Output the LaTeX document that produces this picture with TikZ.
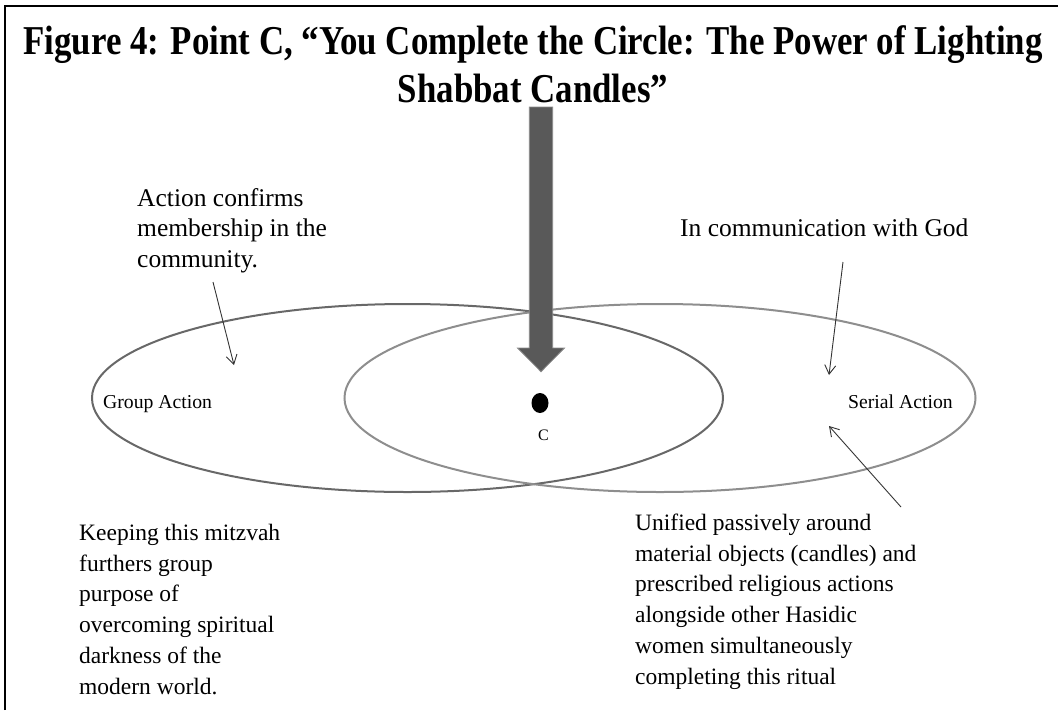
\documentclass[tikz,border=0pt]{standalone}
\usepackage{fontspec}
\setmainfont{Liberation Serif}
\newfontfamily\titlefont[FakeStretch=0.85]{Liberation Serif}
\usetikzlibrary{arrows.meta,shapes.geometric}
\definecolor{leftring}{HTML}{686868}
\definecolor{rightring}{HTML}{8E8E8E}
\definecolor{bigfill}{HTML}{595959}
\definecolor{bigedge}{HTML}{8A8A8A}
\definecolor{thinline}{HTML}{333333}
\begin{document}
\begin{tikzpicture}[x=1pt,y=-1pt,
  txt/.style={inner sep=0pt, align=left, anchor=base west, font=\fontsize{25.5}{30.8}\selectfont},
  lowtxt/.style={inner sep=0pt, align=left, anchor=base west, font=\fontsize{23.5}{30.7}\selectfont},
  lab/.style={inner sep=0pt, anchor=base west, font=\fontsize{19.7}{23}\selectfont},
  thinarrow/.style={draw=thinline, line width=0.9pt, -{Straight Barb[length=9pt,width=11pt]}},
  ring/.style={ellipse, line width=2pt, minimum width=631pt, minimum height=188pt, inner sep=0pt},
  bigarrow/.style={fill=bigfill, draw=bigedge, line width=0.8pt},
]
\useasboundingbox (0,0) rectangle (1058,710);
\draw[line width=1.5pt] (5,710) -- (5,6) -- (1058,6);

\node[inner sep=0pt, anchor=base, align=center, font=\titlefont\bfseries\fontsize{41}{48}\selectfont] (title) at (533,102)
  {Figure 4: Point C, “You Complete the Circle: The Power of Lighting\\Shabbat Candles”};

\node[ring, draw=leftring] (grp) at (407.5,398) {};
\node[ring, draw=rightring] (ser) at (660,398) {};

\coordinate (at) at (541,107);
\coordinate (ah) at (541,371.7);
\filldraw[bigarrow] ([xshift=-11.7pt]at) -- ([xshift=11.7pt]at) -- ([xshift=11.7pt,yshift=23.7pt]ah)
  -- ([xshift=23.5pt,yshift=23.7pt]ah) -- (ah) -- ([xshift=-23.5pt,yshift=23.7pt]ah)
  -- ([xshift=-11.7pt,yshift=23.7pt]ah) -- cycle;

\node[fill=black, ellipse, minimum width=17pt, minimum height=20pt, inner sep=0pt] (c) at (540,403) {};
\node[inner sep=0pt, anchor=base, font=\fontsize{16}{19}\selectfont] (clab) at (543.5,440) {C};

\node[lab] (grplab) at (103,408) {Group Action};
\node[lab] (serlab) at (848,408) {Serial Action};

\node[txt] (act) at (137,267.6) {Action confirms\\membership in the\\community.};
\node[txt] (comm) at (680,236) {In communication with God};
\node[lowtxt] (keep) at (79,694) {Keeping this mitzvah\\furthers group\\purpose of\\overcoming spiritual\\darkness of the\\modern world.};
\node[lowtxt] (unif) at (635,684) {Unified passively around\\material objects (candles) and\\prescribed religious actions\\alongside other Hasidic\\women simultaneously\\completing this ritual};

\coordinate (a1s) at (213,282);
\coordinate (a1e) at (234,365);
\coordinate (a2s) at (843,262);
\coordinate (a2e) at (829,375);
\coordinate (a3s) at (901,507);
\coordinate (a3e) at (829,426);
\draw[thinarrow] (a1s) -- (a1e);
\draw[thinarrow] (a2s) -- (a2e);
\draw[thinarrow] (a3s) -- (a3e);
\end{tikzpicture}
\end{document}
